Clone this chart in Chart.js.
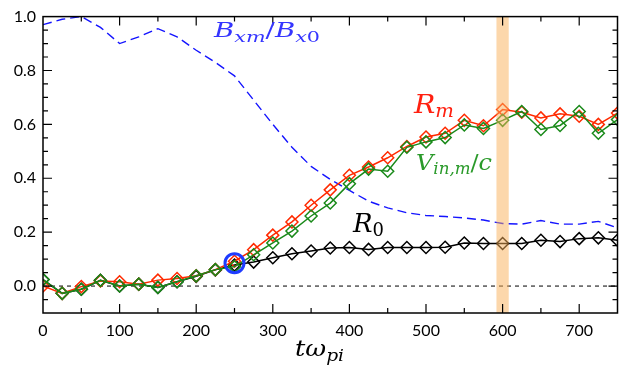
<!DOCTYPE html>
<html>
<head>
<meta charset="utf-8">
<script src="https://cdn.jsdelivr.net/npm/chart.js@4"></script>
<style>
html, body { margin: 0; padding: 0; background: #fff; }
#wrap { width: 625px; height: 371px; position: relative; }
</style>
</head>
<body>
<div id="wrap"><canvas id="chart"></canvas></div>
<script>
// time in units of 1/omega_pi
var times = [0, 25, 50, 75, 100, 125, 150, 175, 200, 225, 250, 275, 300, 325, 350, 375,
             400, 425, 450, 475, 500, 525, 550, 575, 600, 625, 650, 675, 700, 725, 750];
var rm  = [0.0, -0.027, -0.002, 0.019, 0.016, 0.007, 0.022, 0.028, 0.038, 0.061, 0.092, 0.135, 0.189, 0.238, 0.30, 0.357,
           0.411, 0.442, 0.476, 0.518, 0.553, 0.567, 0.615, 0.595, 0.655, 0.645, 0.624, 0.639, 0.63, 0.60, 0.642];
var vin = [0.024, -0.027, -0.012, 0.021, 0.0, 0.007, -0.005, 0.016, 0.038, 0.061, 0.072, 0.116, 0.16, 0.204, 0.26, 0.308,
           0.38, 0.434, 0.426, 0.515, 0.535, 0.551, 0.598, 0.585, 0.615, 0.648, 0.581, 0.596, 0.648, 0.567, 0.618];
var r0  = [0.024, -0.027, -0.012, 0.021, 0.0, 0.007, -0.005, 0.016, 0.036, 0.06, 0.078, 0.089, 0.105, 0.12, 0.13, 0.141,
           0.143, 0.136, 0.143, 0.143, 0.143, 0.144, 0.16, 0.158, 0.158, 0.158, 0.17, 0.165, 0.176, 0.179, 0.17];
var bxm = [0.97, 0.99, 1.0, 0.96, 0.90, 0.925, 0.955, 0.925, 0.875, 0.83, 0.78, 0.69, 0.60, 0.515, 0.444, 0.396,
           0.355, 0.315, 0.29, 0.272, 0.262, 0.258, 0.253, 0.245, 0.232, 0.23, 0.243, 0.23, 0.23, 0.24, 0.216];

var xTicks = [0, 100, 200, 300, 400, 500, 600, 700];
var yTicks = [0, 0.2, 0.4, 0.6, 0.8, 1.0];
var yTickLabels = ['0.0', '0.2', '0.4', '0.6', '0.8', '1.0'];

var band = [592, 608];      // highlighted time
var mark = [250, 0.085];    // circled point

function pts(vals) {
  return times.map(function (t, i) { return { x: t, y: vals[i] }; });
}

// italic math-like label, stretched to the given width
function mathText(ctx, parts, left, right, base, color) {
  ctx.save();
  ctx.fillStyle = color;
  ctx.textBaseline = 'alphabetic';
  var w = 0;
  parts.forEach(function (p) {
    ctx.font = (p.up ? '' : 'italic ') + p.s + 'px "DejaVu Serif"';
    p.w = ctx.measureText(p.t).width;
    w += p.w;
  });
  ctx.translate(left, base);
  ctx.scale((right - left) / w, 1);
  var cx = 0;
  parts.forEach(function (p) {
    ctx.font = (p.up ? '' : 'italic ') + p.s + 'px "DejaVu Serif"';
    ctx.fillText(p.t, cx, p.dy || 0);
    cx += p.w;
  });
  ctx.restore();
}

var decor = {
  id: 'decor',
  beforeDatasetsDraw: function (chart) {
    var ctx = chart.ctx, a = chart.chartArea;
    var py = chart.scales.y.getPixelForValue(0);
    ctx.save();
    ctx.strokeStyle = '#000';
    ctx.lineWidth = 1;
    ctx.setLineDash([4, 4]);
    ctx.beginPath();
    ctx.moveTo(a.left, py);
    ctx.lineTo(a.right, py);
    ctx.stroke();
    ctx.restore();
  },
  afterDatasetsDraw: function (chart) {
    var ctx = chart.ctx, a = chart.chartArea, x = chart.scales.x, y = chart.scales.y;
    ctx.save();

    var x0 = x.getPixelForValue(band[0]), x1 = x.getPixelForValue(band[1]);
    ctx.fillStyle = 'rgba(249,176,88,0.5)';
    ctx.fillRect(x0, a.top, x1 - x0, a.bottom - a.top);

    ctx.strokeStyle = '#1f3cff';
    ctx.lineWidth = 3;
    ctx.beginPath();
    ctx.arc(x.getPixelForValue(mark[0]), y.getPixelForValue(mark[1]), 9.5, 0, 2 * Math.PI);
    ctx.stroke();

    // frame + inward ticks
    ctx.strokeStyle = '#000';
    ctx.lineWidth = 1.5;
    ctx.strokeRect(a.left, a.top, a.right - a.left, a.bottom - a.top);
    ctx.lineWidth = 1.2;
    ctx.beginPath();
    for (var v = 50; v < 750; v += 50) {
      var px = x.getPixelForValue(v);
      var len = v % 100 === 0 ? 9 : 5;
      ctx.moveTo(px, a.bottom); ctx.lineTo(px, a.bottom - len);
      ctx.moveTo(px, a.top); ctx.lineTo(px, a.top + len);
    }
    for (var k = -1; k < 20; k++) {
      var py = y.getPixelForValue(k * 0.05);
      var l2 = k % 4 === 0 ? 9 : 5;
      ctx.moveTo(a.left, py); ctx.lineTo(a.left + l2, py);
      ctx.moveTo(a.right, py); ctx.lineTo(a.right - l2, py);
    }
    ctx.stroke();

    // curve labels
    mathText(ctx, [{ t: 'B', s: 20 }, { t: 'xm', s: 15, dy: 5 }, { t: '/', s: 20, up: true },
                   { t: 'B', s: 20 }, { t: 'x', s: 15, dy: 5 }, { t: '0', s: 15, dy: 5, up: true }],
             214, 320, 37, '#3535ff');
    mathText(ctx, [{ t: 'R', s: 26 }, { t: 'm', s: 18, dy: 4 }], 414, 454, 113, '#ff2010');
    mathText(ctx, [{ t: 'V', s: 23 }, { t: 'in,m', s: 16, dy: 4 }, { t: '/', s: 23, up: true }, { t: 'c', s: 23 }],
             416, 492, 170, '#2a9a2a');
    mathText(ctx, [{ t: 'R', s: 26 }, { t: '0', s: 18, dy: 4, up: true }], 353, 384, 232, '#000');
    mathText(ctx, [{ t: 't\u03c9', s: 22 }, { t: 'pi', s: 16, dy: 5 }], 295, 344, 356, '#000');

    ctx.restore();
  }
};

var ctx = document.getElementById('chart').getContext('2d');
var chart = new Chart(ctx, {
  type: 'line',
  data: {
    datasets: [
      { label: 'Vin,m/c', data: pts(vin), borderColor: '#1a8a1a', pointBorderColor: '#1a8a1a' },
      { label: 'Rm', data: pts(rm), borderColor: '#ff2a00', pointBorderColor: '#ff2a00' },
      { label: 'R0', data: pts(r0), borderColor: '#000', pointBorderColor: '#000' },
      { label: 'Bxm/Bx0', data: pts(bxm), borderColor: '#1414ff', borderDash: [9, 5], pointRadius: 0, borderWidth: 1.4 }
    ]
  },
  options: {
    responsive: true,
    maintainAspectRatio: false,
    animation: false,
    layout: { padding: { top: 12, right: 7, left: 0, bottom: 0 } },
    elements: {
      line: { borderWidth: 1.5, tension: 0 },
      point: { pointStyle: 'rectRot', radius: 6, borderWidth: 1.5, backgroundColor: 'rgba(0,0,0,0)' }
    },
    plugins: { legend: { display: false }, tooltip: { enabled: false } },
    scales: {
      x: {
        type: 'linear', min: 0, max: 750,
        grid: { display: false, drawTicks: false }, border: { display: false },
        afterBuildTicks: function (s) { s.ticks = xTicks.map(function (v) { return { value: v }; }); },
        afterFit: function (s) { s.height = 58; },
        ticks: { autoSkip: false, maxRotation: 0, padding: 8, color: '#000',
                 font: { family: 'Lato', size: 16 },
                 callback: function (v) { return String(v); } }
      },
      y: {
        type: 'linear', min: -0.1, max: 1.0,
        grid: { display: false, drawTicks: false }, border: { display: false },
        afterBuildTicks: function (s) { s.ticks = yTicks.map(function (v) { return { value: v }; }); },
        afterFit: function (s) { s.width = 43; },
        ticks: { padding: 7, color: '#000', font: { family: 'Lato', size: 16 },
                 callback: function (v, i) { return yTickLabels[i]; } }
      }
    }
  },
  plugins: [decor]
});
</script>
</body>
</html>
